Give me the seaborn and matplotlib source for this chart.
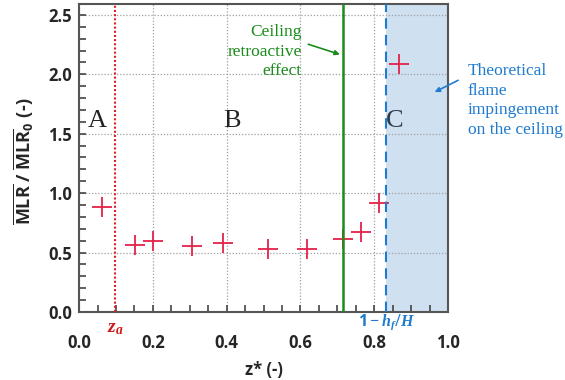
"""Normalised MLR versus z* with zone annotations."""

import matplotlib.pyplot as plt
import seaborn as sns
from matplotlib.ticker import MultipleLocator

# data
z_star = [0.063, 0.151, 0.201, 0.305, 0.390, 0.512, 0.618, 0.715, 0.765, 0.812, 0.868]
mlr_ratio = [0.88, 0.56, 0.60, 0.555, 0.58, 0.53, 0.53, 0.61, 0.67, 0.92, 2.09]

z_a = 0.097
z_ceiling = 0.716
z_flame = 0.832

zone_labels = ["A", "B", "C"]
zone_x = [0.049, 0.414, 0.856]
zone_y = 1.61

x_ticks = [0.0, 0.2, 0.4, 0.6, 0.8, 1.0]
y_ticks = [0.0, 0.5, 1.0, 1.5, 2.0, 2.5]

RED = "#e4224a"
GREEN = "#1c8c1c"
BLUE = "#1f7bcf"

sns.set_theme(style="ticks")
plt.rcParams["font.family"] = ["Open Sans", "DejaVu Sans"]
plt.rcParams["mathtext.fontset"] = "custom"
plt.rcParams["mathtext.rm"] = "Open Sans"
plt.rcParams["mathtext.bf"] = "Open Sans:bold"
plt.rcParams["mathtext.it"] = "Liberation Serif:italic:bold"

fig = plt.figure(figsize=(5.65, 3.8), dpi=100)
ax = fig.add_axes([0.140, 0.179, 0.653, 0.810])

ax.axvspan(z_flame, 1.0, color="#cfe0f1", lw=0, zorder=0)
ax.grid(True, linestyle=(0, (1, 1.5)), color="#a0a0a0", lw=0.9)
ax.set_axisbelow(True)

sns.scatterplot(x=z_star, y=mlr_ratio, marker="+", s=190, color=RED,
                linewidth=1.3, ax=ax, zorder=3)

ax.axvline(z_a, color="#e02020", lw=1.5, linestyle=(0, (1, 1)), zorder=4)
ax.axvline(z_ceiling, color=GREEN, lw=1.8, zorder=4)
ax.axvline(z_flame, color=BLUE, lw=1.5, linestyle=(0, (5, 3)), zorder=4)

ax.set_xlim(0, 1.0)
ax.set_ylim(0, 2.59)
ax.set_xticks(x_ticks)
ax.set_yticks(y_ticks)
ax.set_xticklabels([f"{t:.1f}" for t in x_ticks])
ax.set_yticklabels([f"{t:.1f}" for t in y_ticks])
ax.xaxis.set_minor_locator(MultipleLocator(0.05))
ax.yaxis.set_minor_locator(MultipleLocator(0.1))
ax.tick_params(axis="both", which="both", direction="in", length=5, width=1.2,
               color="#444444")
ax.tick_params(axis="x", which="major", pad=16, labelsize=12)
ax.tick_params(axis="y", which="major", pad=5, labelsize=12)
for lab in ax.get_xticklabels() + ax.get_yticklabels():
    lab.set_fontweight("bold")
for spine in ax.spines.values():
    spine.set_visible(True)
    spine.set_color("#555555")
    spine.set_linewidth(1.5)

ax.set_xlabel("z* (-)", fontsize=12, fontweight="bold")
ax.xaxis.set_label_coords(0.5, -0.16)
ax.set_ylabel(r"$\overline{\mathbf{MLR}}$ / $\overline{\mathbf{MLR}}_\mathbf{0}$ (-)",
              fontsize=13, fontweight="bold")
ax.yaxis.set_label_coords(-0.118, 0.49)

serif = ["Liberation Serif", "DejaVu Serif"]
for lab, zx in zip(zone_labels, zone_x):
    ax.text(zx, zone_y, lab, fontsize=19, family=serif, ha="center", va="center",
            color="#222222" if lab != "C" else "#2f3b4a", zorder=5)

ax.text(0.603, 2.19, "Ceiling\nretroactive\neffect", family=serif, fontsize=12.5,
        color=GREEN, ha="right", va="center", multialignment="right", linespacing=1.3)
ax.annotate("", xy=(0.714, 2.16), xytext=(0.614, 2.26),
            arrowprops=dict(arrowstyle="-|>", color=GREEN, lw=1.2, mutation_scale=7))

ax.text(1.054, 1.78, "Theoretical\nflame\nimpingement\non the ceiling", family=serif,
        fontsize=12.5, color=BLUE, ha="left", va="center", linespacing=1.3,
        clip_on=False)
ax.annotate("", xy=(0.957, 1.84), xytext=(1.034, 1.96), annotation_clip=False,
            arrowprops=dict(arrowstyle="-|>", color=BLUE, lw=1.2, mutation_scale=7))

ax.text(z_a, -0.052, r"$z_a$", transform=ax.get_xaxis_transform(), color="#d01a1a",
        fontsize=14, ha="center", va="center")
ax.text(z_flame, -0.033, r"$\mathbf{1} - h_f/H$", transform=ax.get_xaxis_transform(),
        color=BLUE, fontsize=11.5, ha="center", va="center")

fig.savefig("out.png", dpi=100)
